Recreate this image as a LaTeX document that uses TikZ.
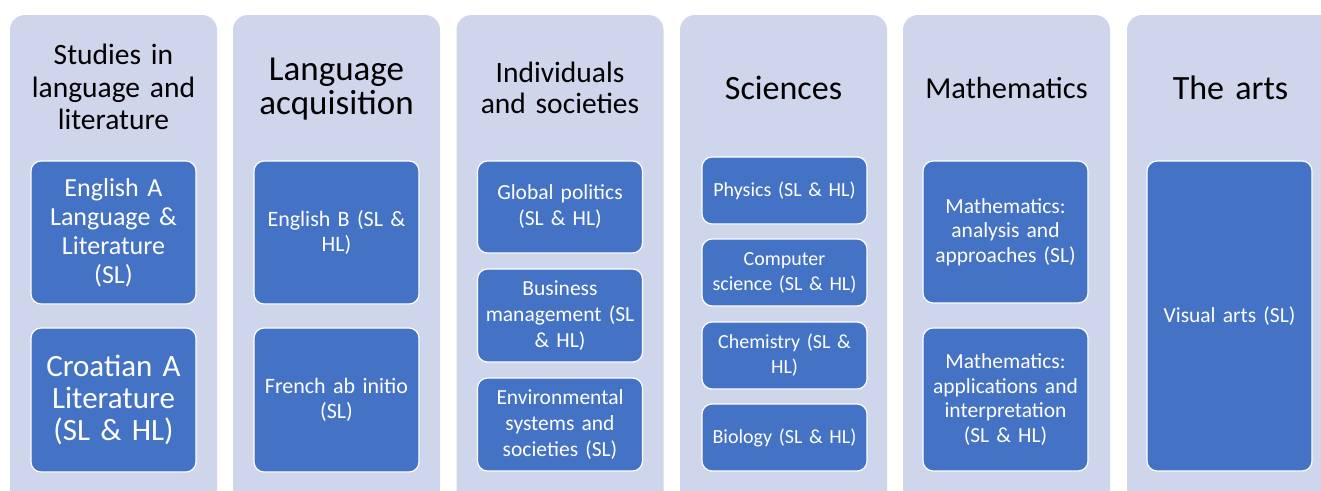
\documentclass[tikz,border=0pt]{standalone}
\usepackage{fontspec}
\setmainfont{Carlito}
\definecolor{colbg}{HTML}{CFD5EA}
\definecolor{boxblue}{HTML}{4472C4}
\tikzset{
  colpanel/.style={fill=colbg, draw=none, rounded corners=15pt, minimum width=207pt, inner sep=0pt},
  subbox/.style={fill=boxblue, draw=white, line width=1.2pt, rounded corners=10pt, minimum width=165pt, inner sep=2pt, text=white, align=center, text width=160pt},
  coltitle/.style={text=black, align=center, inner sep=0pt, text width=200pt},
}
\begin{document}
\begin{tikzpicture}[x=1pt,y=-1pt]
\useasboundingbox (0,0) rectangle (1321,490);
\clip (0,0) rectangle (1321,490);
\fill[white] (0,0) rectangle (1321,490);
% column panels
\node[colpanel, minimum height=515pt] (c1) at (113.5,272.5) {};
\node[colpanel, minimum height=515pt] (c2) at (336.5,272.5) {};
\node[colpanel, minimum height=515pt] (c3) at (560,272.5) {};
\node[colpanel, minimum height=515pt] (c4) at (783.5,272.5) {};
\node[colpanel, minimum height=515pt] (c5) at (1006.5,272.5) {};
\node[colpanel, minimum height=515pt] (c6) at (1230.5,272.5) {};
% titles
\node[coltitle, font=\fontsize{29.5}{32.5}\selectfont] (t1) at (113.5,87) {Studies in\\language and\\literature};
\node[coltitle, font=\fontsize{35}{34.5}\selectfont] (t2) at (336.5,89) {Language\\acquisition};
\node[coltitle, font=\fontsize{29.5}{31.5}\selectfont] (t3) at (560,88) {Individuals\\and societies};
\node[coltitle, font=\fontsize{34}{34}\selectfont] (t4) at (783.5,88) {Sciences};
\node[coltitle, font=\fontsize{30.5}{32}\selectfont] (t5) at (1006.5,88) {Mathematics};
\node[coltitle, font=\fontsize{34}{34}\selectfont] (t6) at (1230.5,88) {The arts};
% column 1
\node[subbox, minimum height=143pt, font=\fontsize{26}{29}\selectfont] (b11) at (113.5,232.5) {English A\\Language \&\\Literature\\(SL)};
\node[subbox, minimum height=144pt, font=\fontsize{31}{32}\selectfont] (b12) at (113.5,400) {Croatian A\\Literature\\(SL \& HL)};
% column 2
\node[subbox, minimum height=143pt, font=\fontsize{22}{25}\selectfont] (b21) at (336.5,232.5) {English B (SL \&\\HL)};
\node[subbox, minimum height=144pt, font=\fontsize{22}{25}\selectfont] (b22) at (336.5,400) {French ab initio\\(SL)};
% column 3
\node[subbox, minimum height=92pt, font=\fontsize{21.5}{26}\selectfont] (b31) at (560,207) {Global politics\\(SL \& HL)};
\node[subbox, minimum height=93pt, font=\fontsize{21.5}{26}\selectfont] (b32) at (560,315.5) {Business\\management (SL\\\& HL)};
\node[subbox, minimum height=93pt, font=\fontsize{21.5}{26}\selectfont] (b33) at (560,424.5) {Environmental\\systems and\\societies (SL)};
% column 4
\node[subbox, minimum height=67pt, font=\fontsize{20}{25}\selectfont] (b41) at (784.5,190.5) {Physics (SL \& HL)};
\node[subbox, minimum height=67pt, font=\fontsize{20}{25}\selectfont] (b42) at (784.5,272.5) {Computer\\science (SL \& HL)};
\node[subbox, minimum height=67pt, font=\fontsize{20}{25}\selectfont] (b43) at (784.5,355.5) {Chemistry (SL \&\\HL)};
\node[subbox, minimum height=67pt, font=\fontsize{20}{25}\selectfont] (b44) at (784.5,437.5) {Biology (SL \& HL)};
% column 5
\node[subbox, minimum height=142pt, font=\fontsize{21.5}{24.5}\selectfont] (b51) at (1005.5,232) {Mathematics:\\analysis and\\approaches (SL)};
\node[subbox, minimum height=143pt, font=\fontsize{21.5}{24.5}\selectfont] (b52) at (1005.5,399.5) {Mathematics:\\applications and\\interpretation\\(SL \& HL)};
% column 6
\node[subbox, minimum height=310pt, font=\fontsize{21.5}{25}\selectfont] (b61) at (1229.5,316) {Visual arts (SL)};
\end{tikzpicture}
\end{document}
